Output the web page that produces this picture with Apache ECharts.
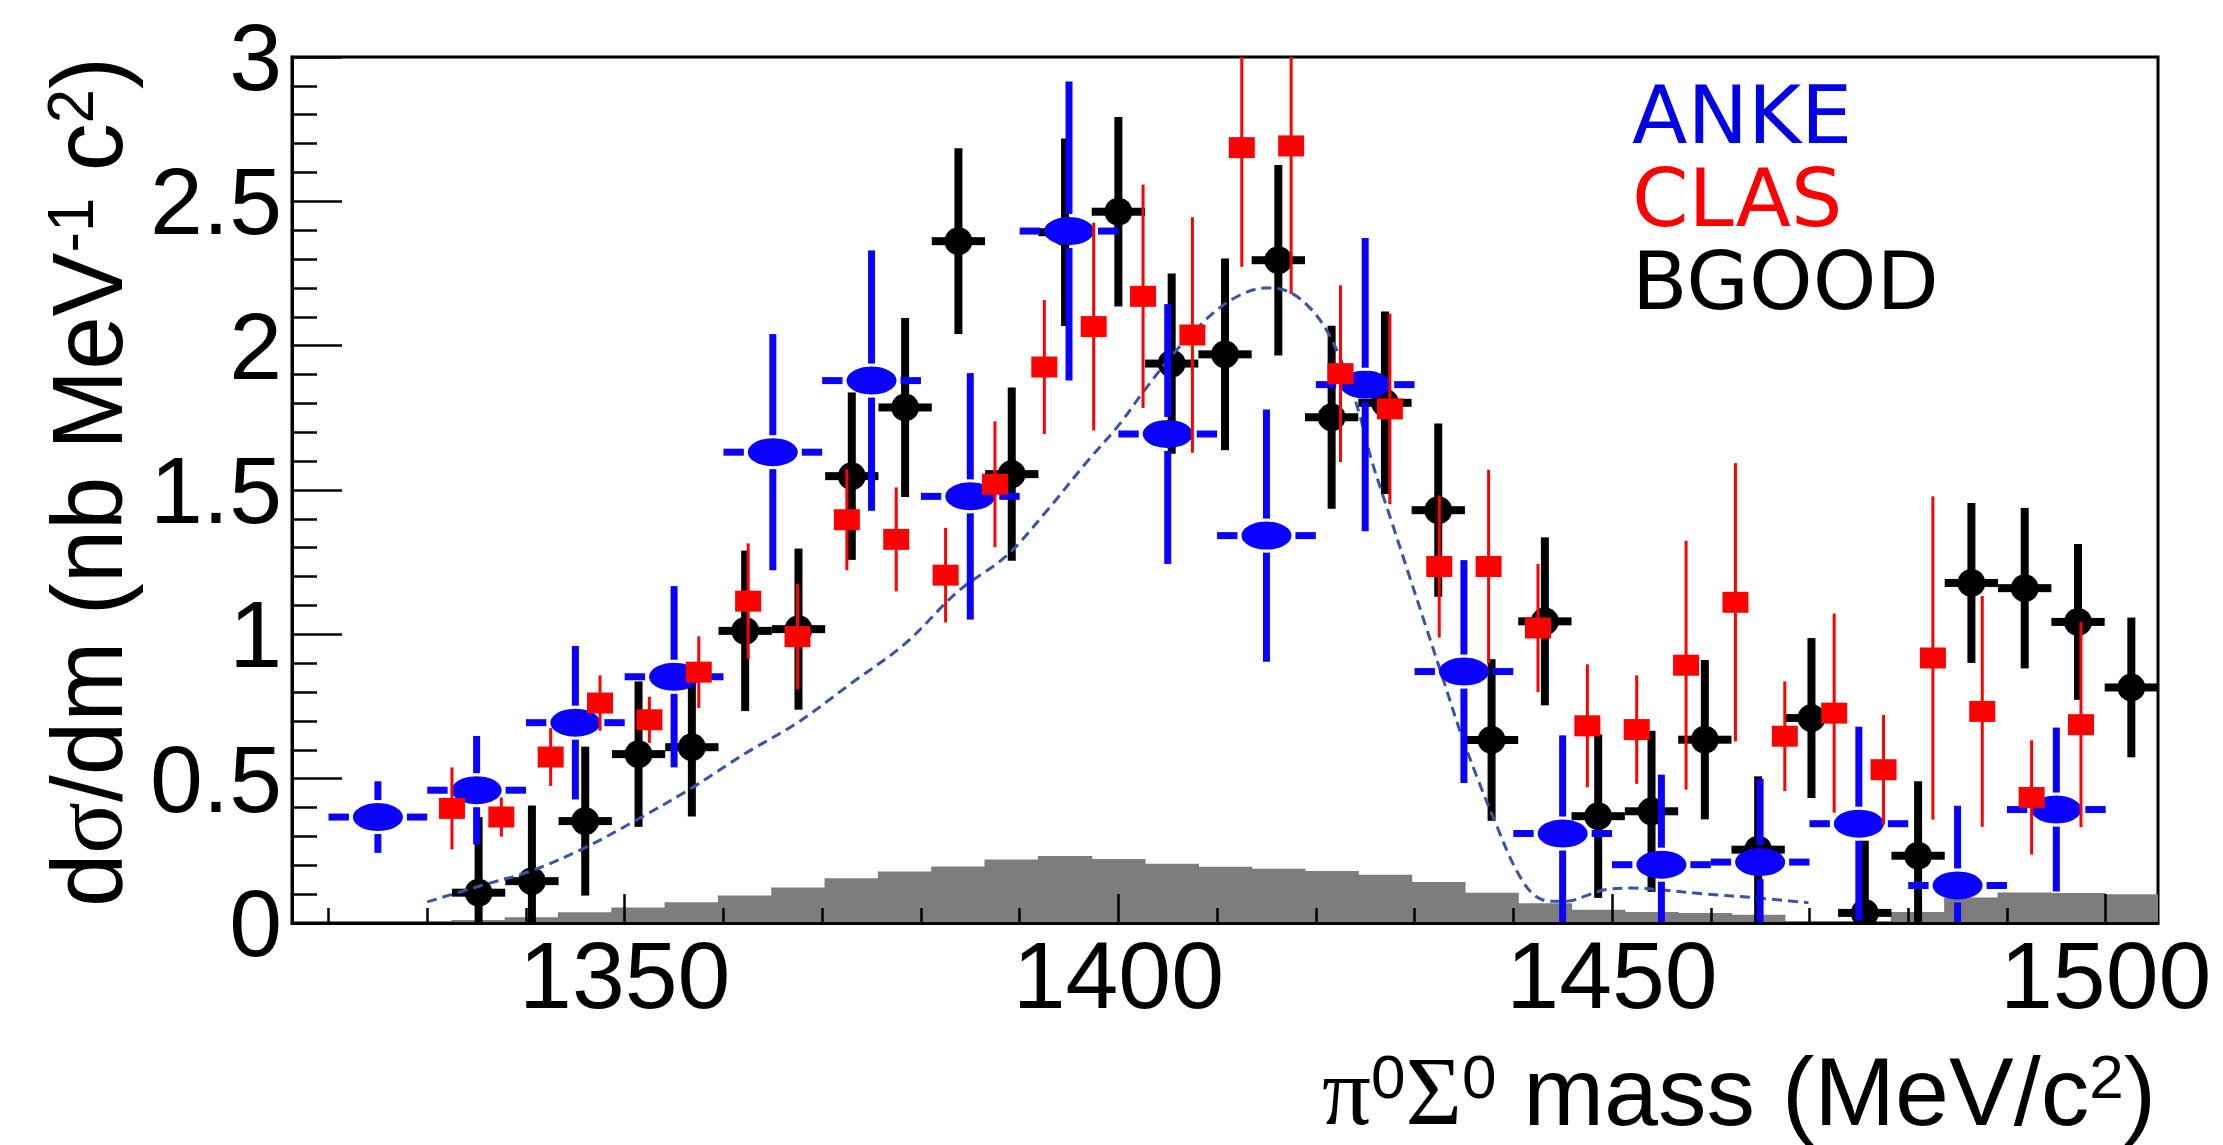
<!DOCTYPE html>
<html>
<head>
<meta charset="utf-8">
<script src="https://cdn.jsdelivr.net/npm/echarts@6/dist/echarts.min.js"></script>
<style>
html,body{margin:0;padding:0;background:#fff;}
#chart{width:2223px;height:1145px;}
</style>
</head>
<body>
<div id="chart"></div>
<script>
// ---------------- data ----------------
const xMin = 1316.3;
const xMax = 1505.3;
const xMajorTicks = [1350, 1400, 1450, 1500];
const xMinorTicks = [1320, 1330, 1340, 1360, 1370, 1380, 1390, 1410, 1420, 1430, 1440, 1460, 1470, 1480, 1490];

const ankeMass  = [1325, 1335, 1345, 1355, 1365, 1375, 1385, 1395, 1405, 1415, 1425, 1435, 1445, 1455, 1465, 1475, 1485, 1495];
const ankeValue = [0.367, 0.46, 0.694, 0.853, 1.631, 1.879, 1.478, 2.397, 1.694, 1.342, 1.865, 0.871, 0.31, 0.202, 0.211, 0.344, 0.13, 0.393];
const ankeError = [0.124, 0.188, 0.266, 0.314, 0.409, 0.451, 0.427, 0.518, 0.45, 0.437, 0.508, 0.386, 0.34, 0.312, 0.288, 0.336, 0.276, 0.284];
const ankeHalfBin = 5;

const clasMass  = [1332.5, 1337.5, 1342.5, 1347.5, 1352.5, 1357.5, 1362.5, 1367.5, 1372.5, 1377.5, 1382.5, 1387.5, 1392.5, 1397.5, 1402.5, 1407.5, 1412.5, 1417.5, 1422.5, 1427.5, 1432.5, 1437.5, 1442.5, 1447.5, 1452.5, 1457.5, 1462.5, 1467.5, 1472.5, 1477.5, 1482.5, 1487.5, 1492.5, 1497.5];
const clasValue = [0.397, 0.367, 0.575, 0.762, 0.704, 0.869, 1.115, 0.992, 1.397, 1.329, 1.205, 1.52, 1.926, 2.066, 2.171, 2.037, 2.686, 2.692, 1.903, 1.781, 1.235, 1.235, 1.022, 0.683, 0.67, 0.893, 1.111, 0.647, 0.727, 0.531, 0.918, 0.733, 0.435, 0.687];
const clasError = [0.142, 0.068, 0.1, 0.096, 0.08, 0.124, 0.2, 0.183, 0.175, 0.18, 0.164, 0.218, 0.232, 0.36, 0.387, 0.408, 0.413, 0.513, 0.306, 0.33, 0.246, 0.335, 0.222, 0.213, 0.188, 0.431, 0.482, 0.19, 0.345, 0.19, 0.56, 0.4, 0.198, 0.355];

const bgoodMass  = [1335.2, 1340.6, 1346.0, 1351.4, 1356.8, 1362.2, 1367.6, 1373.0, 1378.4, 1383.8, 1389.2, 1394.6, 1400.0, 1405.4, 1410.8, 1416.2, 1421.6, 1427.0, 1432.4, 1437.8, 1443.2, 1448.6, 1454.0, 1459.4, 1464.8, 1470.2, 1475.6, 1481.0, 1486.4, 1491.8, 1497.2, 1502.6];
const bgoodValue = [0.105, 0.145, 0.353, 0.585, 0.609, 1.012, 1.018, 1.548, 1.786, 2.362, 1.555, 2.393, 2.464, 1.938, 1.97, 2.296, 1.752, 1.802, 1.43, 0.634, 1.045, 0.37, 0.387, 0.635, 0.254, 0.71, 0.035, 0.233, 1.178, 1.16, 1.043, 0.816];
const bgoodError = [0.262, 0.262, 0.258, 0.252, 0.24, 0.278, 0.279, 0.29, 0.31, 0.322, 0.3, 0.325, 0.328, 0.312, 0.332, 0.33, 0.317, 0.316, 0.3, 0.28, 0.291, 0.283, 0.279, 0.276, 0.254, 0.277, 0.25, 0.258, 0.277, 0.278, 0.27, 0.242];
const bgoodHalfBin = 2.7;

const backgroundMass  = [1335.2, 1340.6, 1346.0, 1351.4, 1356.8, 1362.2, 1367.6, 1373.0, 1378.4, 1383.8, 1389.2, 1394.6, 1400.0, 1405.4, 1410.8, 1416.2, 1421.6, 1427.0, 1432.4, 1437.8, 1443.2, 1448.6, 1454.0, 1459.4, 1464.8, 1470.2, 1475.6, 1481.0, 1486.4, 1491.8, 1497.2, 1502.6];
const backgroundValue = [0.01, 0.02, 0.037, 0.054, 0.072, 0.095, 0.123, 0.155, 0.178, 0.196, 0.22, 0.232, 0.222, 0.205, 0.195, 0.188, 0.18, 0.167, 0.142, 0.105, 0.068, 0.046, 0.038, 0.035, 0.029, 0, 0, 0.038, 0.088, 0.106, 0.104, 0.1];
const backgroundHalfBin = 2.7;

const fitMass  = [1330, 1335.4, 1340.4, 1345.8, 1351.2, 1356.7, 1362.1, 1367.5, 1372.9, 1378.4, 1383.8, 1388.7, 1392.8, 1396.8, 1400, 1402.7, 1405.9, 1409.5, 1412.2, 1414.9, 1417.2, 1419.4, 1421.2, 1423.0, 1424.4, 1425.7, 1427.5, 1429.3, 1431.1, 1432.9, 1434.7, 1436.5, 1438.4, 1440.2, 1442.0, 1443.8, 1445.6, 1447.4, 1449.3, 1452.1, 1454.9, 1459.6, 1464.7, 1469.9];
const fitValue = [0.073, 0.129, 0.179, 0.258, 0.357, 0.466, 0.585, 0.694, 0.829, 0.968, 1.15, 1.273, 1.43, 1.597, 1.723, 1.848, 1.985, 2.11, 2.173, 2.2, 2.188, 2.131, 2.047, 1.911, 1.765, 1.597, 1.409, 1.22, 1.032, 0.844, 0.655, 0.49, 0.33, 0.19, 0.1, 0.075, 0.076, 0.095, 0.115, 0.121, 0.115, 0.1, 0.087, 0.07];

// ---------------- helpers ----------------
function zip3(a, b, c) { return a.map((v, i) => [v, b[i], c[i]]); }

function errorSeries(name, data, o) {
  return {
    type: 'custom', name: name, xAxisIndex: 0, yAxisIndex: 0, z: o.z, clip: true,
    data: data,
    renderItem: function (params, api) {
      const x = api.value(0), y = api.value(1), e = api.value(2);
      const c = api.coord([x, y]);
      const t = api.coord([x, y + e]);
      const b = api.coord([x, y - e]);
      const ls = { stroke: o.color, lineWidth: o.lineWidth, lineCap: 'butt' };
      const ch = [];
      if (c[1] - o.gapY > t[1]) ch.push({ type: 'line', shape: { x1: c[0], y1: t[1], x2: c[0], y2: c[1] - o.gapY }, style: ls });
      if (b[1] > c[1] + o.gapY) ch.push({ type: 'line', shape: { x1: c[0], y1: c[1] + o.gapY, x2: c[0], y2: b[1] }, style: ls });
      if (o.halfBin) {
        const l = api.coord([x - o.halfBin, y]);
        const r = api.coord([x + o.halfBin, y]);
        if (c[0] - o.gapX > l[0]) ch.push({ type: 'line', shape: { x1: l[0], y1: c[1], x2: c[0] - o.gapX, y2: c[1] }, style: ls });
        if (r[0] > c[0] + o.gapX) ch.push({ type: 'line', shape: { x1: c[0] + o.gapX, y1: c[1], x2: r[0], y2: c[1] }, style: ls });
      }
      if (o.marker === 'ellipse') {
        ch.push({ type: 'circle', x: c[0], y: c[1], scaleX: o.rx / o.ry, shape: { cx: 0, cy: 0, r: o.ry }, style: { fill: o.color } });
      } else if (o.marker === 'circle') {
        ch.push({ type: 'circle', shape: { cx: c[0], cy: c[1], r: o.r }, style: { fill: o.color } });
      } else if (o.marker === 'rect') {
        ch.push({ type: 'rect', shape: { x: c[0] - o.w / 2, y: c[1] - o.h / 2, width: o.w, height: o.h }, style: { fill: o.color } });
      }
      return { type: 'group', children: ch };
    }
  };
}

const chart = echarts.init(document.getElementById('chart'), null, { renderer: 'svg' });

const yRich = {
  n: { fontFamily: 'Liberation Sans', fontSize: 100, lineHeight: 96, color: '#000' },
  g: { fontFamily: 'Liberation Serif', fontSize: 100, lineHeight: 96, color: '#000' },
  s: { fontFamily: 'Liberation Sans', fontSize: 64, lineHeight: 48, verticalAlign: 'top', color: '#000' }
};
const xRich = {
  n: { fontFamily: 'Liberation Sans', fontSize: 97, lineHeight: 92, color: '#000' },
  g: { fontFamily: 'Liberation Serif', fontSize: 97, lineHeight: 92, color: '#000' },
  s: { fontFamily: 'Liberation Sans', fontSize: 62, lineHeight: 46, verticalAlign: 'top', color: '#000' }
};

const option = {
  animation: false,
  backgroundColor: '#ffffff',
  textStyle: { fontFamily: 'Liberation Sans' },
  grid: {
    left: 292, right: 65, top: 57, bottom: 222,
    show: true, borderColor: '#000', borderWidth: 3, backgroundColor: 'transparent',
    containLabel: false, outerBoundsMode: 'none'
  },
  legend: {
    data: [
      { name: 'ANKE', textStyle: { color: '#0000e6' } },
      { name: 'CLAS', textStyle: { color: '#ff0000' } },
      { name: 'BGOOD', textStyle: { color: '#000000' } }
    ],
    orient: 'vertical', left: 1622, top: 68,
    itemWidth: 0, itemHeight: 0, itemGap: 0, icon: 'rect',
    selectedMode: false,
    textStyle: { fontFamily: 'DejaVu Sans', fontSize: 81, lineHeight: 83 }
  },
  xAxis: [
    {
      type: 'value', min: xMin, max: xMax, z: 10,
      axisLine: { show: true, lineStyle: { color: '#000', width: 3 } },
      splitLine: { show: false },
      axisTick: { show: true, inside: true, length: 29, customValues: xMajorTicks, lineStyle: { color: '#000', width: 2.5 } },
      axisLabel: {
        show: true, customValues: xMajorTicks, margin: 4, fontFamily: 'Liberation Sans', fontSize: 95, lineHeight: 95, color: '#000',
        formatter: function (v) { return String(v); }
      }
    },
    {
      type: 'value', min: xMin, max: xMax, gridIndex: 0, position: 'bottom', z: 10,
      axisLine: { show: false }, splitLine: { show: false }, axisLabel: { show: false },
      axisTick: { show: true, inside: true, length: 15, customValues: xMinorTicks, lineStyle: { color: '#000', width: 2.5 } }
    }
  ],
  yAxis: {
    type: 'value', min: 0, max: 3, interval: 0.5, z: 10,
    axisLine: { show: true, lineStyle: { color: '#000', width: 3 } },
    splitLine: { show: false },
    axisTick: { show: true, inside: true, length: 50, lineStyle: { color: '#000', width: 2.5 } },
    minorTick: { show: true, splitNumber: 5, length: 25, lineStyle: { color: '#000', width: 2.5 } },
    axisLabel: { margin: 10, fontFamily: 'Liberation Sans', fontSize: 95, color: '#000' }
  },
  graphic: [
    {
      type: 'text', x: 2156, y: 1091, scaleX: 1.0, z: 20,
      style: {
        text: '{g|π}{s|0}{g|Σ}{s|0}{n| mass (MeV/c}{s|2}{n|)}',
        align: 'right', verticalAlign: 'middle', rich: xRich
      }
    },
    {
      type: 'text', x: 87, y: 57, rotation: Math.PI / 2, scaleX: 0.96, z: 20,
      style: {
        text: '{n|d}{g|σ}{n|/dm (nb MeV}{s|-1}{n| c}{s|2}{n|)}',
        align: 'right', verticalAlign: 'middle', rich: yRich
      }
    }
  ],
  series: [
    {
      type: 'custom', name: 'background', xAxisIndex: 0, yAxisIndex: 0, z: 1, clip: true,
      data: backgroundMass.map((m, i) => [m, backgroundValue[i]]),
      renderItem: function (params, api) {
        const x = api.value(0), v = api.value(1);
        if (!(v > 0)) return null;
        const p0 = api.coord([x - backgroundHalfBin, v]);
        const p1 = api.coord([x + backgroundHalfBin, 0]);
        return { type: 'rect', shape: { x: p0[0] - 0.6, y: p0[1], width: p1[0] - p0[0] + 1.2, height: p1[1] - p0[1] }, style: { fill: '#7d7d7d' } };
      }
    },
    errorSeries('BGOOD', zip3(bgoodMass, bgoodValue, bgoodError), {
      z: 2, color: '#000000', lineWidth: 8, gapX: 0, gapY: 0, halfBin: bgoodHalfBin, marker: 'circle', r: 14
    }),
    {
      type: 'line', name: 'fit', xAxisIndex: 0, yAxisIndex: 0, z: 3,
      data: fitMass.map((m, i) => [m, fitValue[i]]),
      showSymbol: false, symbol: 'none', smooth: 0.35,
      lineStyle: { color: '#3b53a4', width: 3, type: [10, 6] }
    },
    errorSeries('ANKE', zip3(ankeMass, ankeValue, ankeError), {
      z: 4, color: '#0a00ff', lineWidth: 7, gapX: 29, gapY: 17, halfBin: ankeHalfBin, marker: 'ellipse', rx: 25, ry: 14
    }),
    errorSeries('CLAS', zip3(clasMass, clasValue, clasError), {
      z: 5, color: '#ff0000', lineWidth: 3, gapX: 0, gapY: 0, halfBin: 0, marker: 'rect', w: 26, h: 21
    })
  ]
};
chart.setOption(option);
</script>
</body>
</html>
